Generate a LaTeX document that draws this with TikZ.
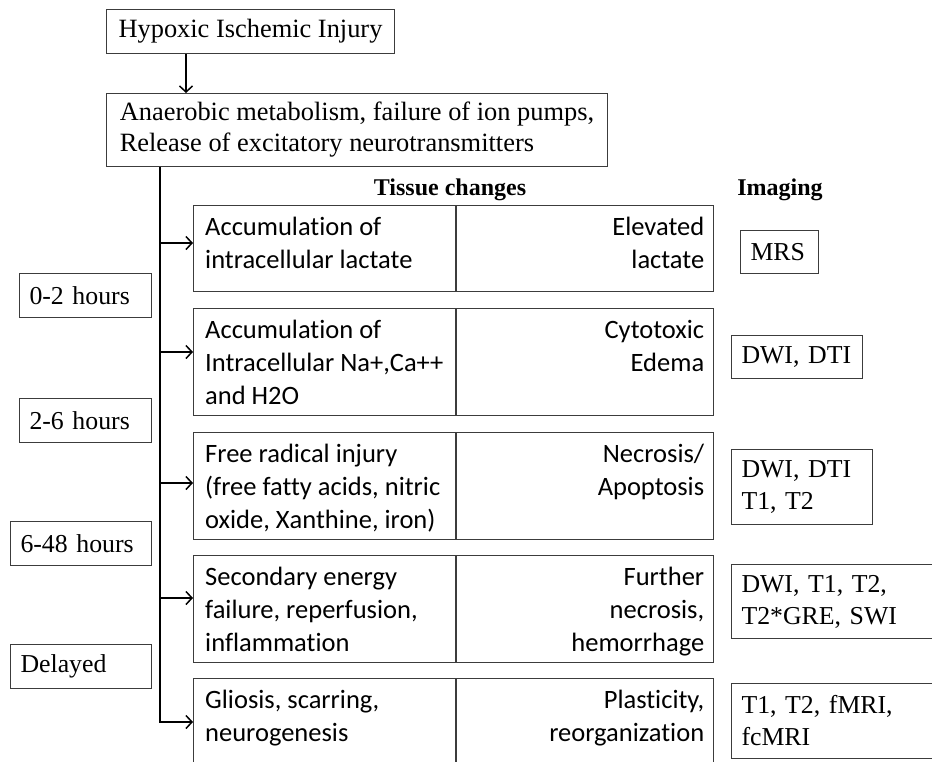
\documentclass[tikz,border=0pt]{standalone}
\usepackage{fontspec}
\setmainfont{Liberation Serif}
\newfontfamily\calfont[Ligatures=NoCommon]{Carlito}
\usetikzlibrary{arrows.meta,positioning}
\definecolor{edgegray}{HTML}{3C3C3C}
\tikzset{
  ar/.style={-{Straight Barb[length=6pt,width=13pt]},line width=1.5pt},
  sbox/.style={draw=edgegray,line width=1pt,anchor=north west,inner xsep=10pt,inner ysep=6pt,align=left,font=\fontsize{25.8}{32}\selectfont},
  topbox/.style={sbox,inner xsep=11pt,font=\fontsize{26.4}{31}\selectfont},
  cell/.style={draw=edgegray,line width=1.2pt,anchor=north west,inner sep=0pt},
  ltxt/.style={anchor=north west,align=left,inner sep=0pt,font=\calfont\fontsize{26.5}{33}\selectfont},
  rtxt/.style={anchor=north east,align=right,inner sep=0pt,font=\calfont\fontsize{26.5}{33}\selectfont},
  hd/.style={font=\bfseries\fontsize{24}{28}\selectfont,inner sep=0pt}
}
% one row of the tissue table: name, top, height, arrow y, left text, right text
\newcommand{\tissuerow}[6]{%
  \node[cell,minimum width=262pt,minimum height=#3pt] (#1l) at (193,#2) {};
  \node[cell,minimum width=257pt,minimum height=#3pt] (#1r) at (#1l.north east) {};
  \node[ltxt] (#1a) at ([xshift=12pt,yshift=-12pt]#1l.north west) {#5};
  \node[rtxt] (#1b) at ([xshift=-10pt,yshift=-12pt]#1r.north east) {#6};
  \coordinate (#1y) at (160,#4);
  \draw[ar] (#1y) -- (#1y -| #1l.west);}

\begin{document}
\begin{tikzpicture}[x=1pt,y=-1pt]
\useasboundingbox (0,0) rectangle (932,761);
\clip (0,0) rectangle (932,761);

% cause and first reaction
\node[topbox,minimum width=288pt,minimum height=44pt] (hii) at (106,9) {Hypoxic Ischemic Injury};
\node[topbox,minimum width=501pt,minimum height=73pt,inner ysep=8pt] (ana) at (106,93) {Anaerobic metabolism, failure of ion pumps,\\Release of excitatory neurotransmitters};
\coordinate (drop) at (186,0);
\draw[ar] (drop |- hii.south) -- (drop |- ana.north);
\coordinate (trunk) at (160,0);
\draw[line width=1.5pt] (trunk |- ana.south) -- (160,722.7);

% column heads
\node[hd] (tch) at (450,190) {Tissue changes};
\node[hd] (img) at (780,190) {Imaging};

% time boxes
\node[sbox,text width=112pt,minimum height=44pt] (t1) at (19,273) {0-2 hours};
\node[sbox,text width=112pt,minimum height=44pt] (t2) at (19,398) {2-6 hours};
\node[sbox,text width=121pt,minimum height=44pt] (t3) at (10,521) {6-48 hours};
\node[sbox,text width=121pt,minimum height=44pt] (t4) at (10,644) {Delayed};

% tissue rows
\tissuerow{ra}{205}{86}{243}{Accumulation of\\intracellular lactate}{Elevated\\lactate}
\tissuerow{rb}{308}{107}{352}{Accumulation of\\Intracellular Na+,Ca++\\and H2O}{Cytotoxic\\Edema}
\tissuerow{rc}{432}{107}{483}{Free radical injury\\(free fatty acids, nitric\\oxide, Xanthine, iron)}{Necrosis/\\Apoptosis}
\tissuerow{rd}{555}{107}{598}{Secondary energy\\failure, reperfusion,\\inflammation}{Further\\necrosis,\\hemorrhage}
\tissuerow{re}{678}{107}{722}{Gliosis, scarring,\\neurogenesis}{Plasticity,\\reorganization}

% imaging boxes
\node[sbox,text width=58pt,minimum height=43pt] (ma) at (740,230) {MRS};
\node[sbox,text width=111pt,minimum height=43pt] (mb) at (731,335) {DWI, DTI};
\node[sbox,text width=121pt,minimum height=75pt] (mc) at (731,449) {DWI, DTI\\T1, T2};
\node[sbox,text width=200pt,minimum height=74pt] (md) at (731,564) {DWI, T1, T2,\\T2*GRE, SWI};
\node[sbox,text width=200pt,minimum height=75pt] (me) at (731,683) {T1, T2, fMRI,\\fcMRI};
\end{tikzpicture}
\end{document}
